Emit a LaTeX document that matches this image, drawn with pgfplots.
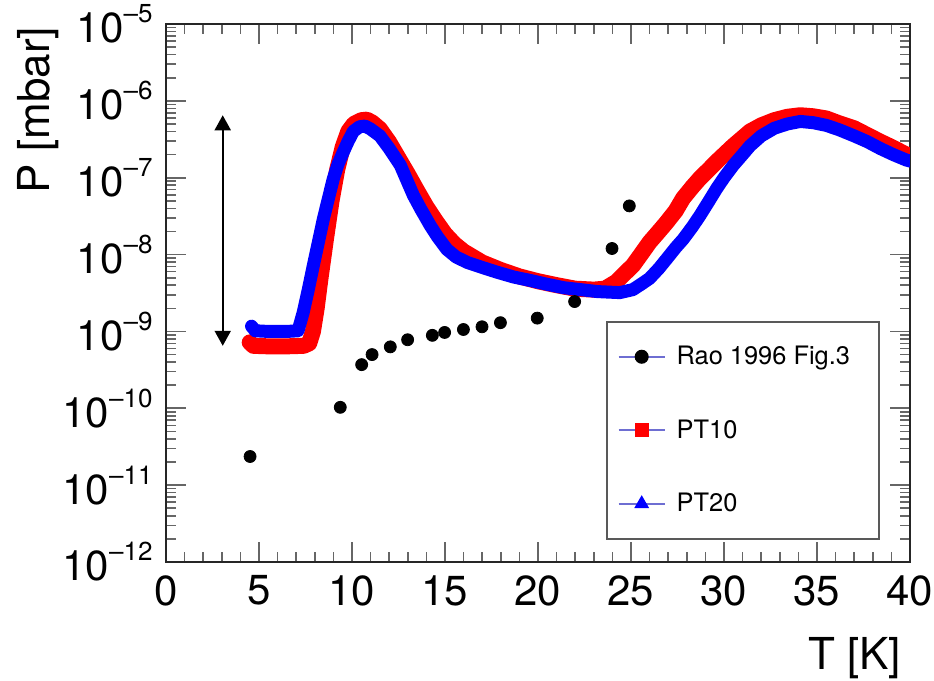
\documentclass[border=0pt]{standalone}
\usepackage{fontspec}
\setmainfont{TeX Gyre Heros}
\usepackage{pgfplots}
\pgfplotsset{compat=1.18}
\usetikzlibrary{arrows.meta}
\definecolor{legline}{RGB}{110,110,210}
\newcommand{\supe}[1]{\raisebox{10pt}{\fontsize{13}{13}\selectfont\textendash#1}}
\begin{document}
\begin{tikzpicture}
\useasboundingbox (-83pt,-59.5pt) rectangle (384pt,281pt);
\begin{axis}[
  scale only axis, width=372pt, height=269pt,
  xmin=0, xmax=40, ymode=log, log basis y=10, ymin=1e-12, ymax=1e-5,
  xtick={0,5,...,40}, xticklabels={0,5,10,15,20,25,30,35,40},
  minor x tick num=4,
  ytickten={-12,-11,-10,-9,-8,-7,-6,-5},
  minor ytick={2e-12,3e-12,4e-12,5e-12,6e-12,7e-12,8e-12,9e-12,
               2e-11,3e-11,4e-11,5e-11,6e-11,7e-11,8e-11,9e-11,
               2e-10,3e-10,4e-10,5e-10,6e-10,7e-10,8e-10,9e-10,
               2e-9,3e-9,4e-9,5e-9,6e-9,7e-9,8e-9,9e-9,
               2e-8,3e-8,4e-8,5e-8,6e-8,7e-8,8e-8,9e-8,
               2e-7,3e-7,4e-7,5e-7,6e-7,7e-7,8e-7,9e-7,
               2e-6,3e-6,4e-6,5e-6,6e-6,7e-6,8e-6,9e-6},
  yticklabel={10\supe{\pgfmathparse{int(round(-\tick))}\pgfmathresult}},
  tick align=inside,
  major tick length=10pt, minor tick length=5pt,
  tick style={line width=0.8pt, black!60},
  axis line style={line width=1pt, black!85},
  xticklabel style={font=\fontsize{21}{21}\selectfont, inner ysep=0pt, yshift=-6.5pt},
  yticklabel style={font=\fontsize{21}{21}\selectfont, inner xsep=0pt, xshift=-6.5pt},
  legend image code/.code={\draw[mark repeat=2,mark phase=2,#1] plot coordinates {(0pt,0pt) (11.5pt,0pt) (23pt,0pt)};},
  legend style={at={(rel axis cs:0.591,0.448)}, anchor=north west, draw=black!65, line width=1pt, fill=white,
    inner xsep=5.5pt, inner ysep=12pt, row sep=26pt, column sep=5.5pt,
    font=\fontsize{12.7}{15}\selectfont, nodes={inner sep=0pt}},
  legend cell align=left,
]
\addplot[only marks, mark=*, mark size=3pt, black, forget plot] coordinates {
(4.52,2.36e-11) (9.37,1.03e-10) (10.52,3.7e-10) (11.08,5.0e-10) (12.06,6.3e-10)
(12.99,7.8e-10) (14.32,8.9e-10) (14.98,9.7e-10) (15.99,1.06e-9) (16.99,1.15e-9)
(17.98,1.3e-9) (19.96,1.49e-9) (21.97,2.45e-9) (23.98,1.2e-8) (24.91,4.3e-8)};
\addplot[red, line width=8pt, line join=round, line cap=round, forget plot] coordinates {
(4.5,7.2e-10) (4.7,6.5e-10) (5.5,6.4e-10) (6.5,6.4e-10) (7.4,6.5e-10) (7.7,7.0e-10)
(7.9,1.0e-9) (8.1,2.0e-9) (8.3,4.8e-9) (8.6,1.6e-8) (8.9,5.0e-8) (9.2,1.26e-7)
(9.5,2.5e-7) (9.8,4.0e-7) (10.1,5.0e-7) (10.5,5.6e-7) (10.8,5.7e-7) (11.1,5.2e-7)
(11.5,4.3e-7) (12.0,2.9e-7) (12.5,1.8e-7) (13.0,1.12e-7) (13.5,6.8e-8) (14.0,4.2e-8)
(14.5,2.75e-8) (15.0,1.86e-8) (15.5,1.38e-8) (16.0,1.1e-8) (17.0,7.9e-9) (18.0,6.3e-9)
(19.0,5.2e-9) (20.0,4.5e-9) (21.0,4.0e-9) (22.0,3.6e-9) (23.0,3.5e-9) (23.6,3.6e-9)
(24.2,4.4e-9) (24.6,5.5e-9) (25.1,7.2e-9) (25.5,9.8e-9) (26.0,1.45e-8) (26.5,2.0e-8)
(26.9,2.6e-8) (27.4,3.7e-8) (27.8,5.4e-8) (28.3,7.6e-8) (28.7,9.8e-8) (29.2,1.29e-7)
(29.6,1.62e-7) (30.0,2.0e-7) (30.5,2.6e-7) (31.0,3.3e-7) (31.4,4.0e-7) (32.0,4.8e-7)
(32.7,5.6e-7) (33.4,6.2e-7) (34.1,6.5e-7) (34.8,6.3e-7) (35.5,5.9e-7) (36.2,5.1e-7)
(37.0,4.4e-7) (37.7,3.6e-7) (38.4,2.95e-7) (39.1,2.45e-7) (39.8,2.0e-7) (40.0,1.95e-7)};
\addplot[blue, line width=6.5pt, line join=round, line cap=round, forget plot] coordinates {
(4.6,1.17e-9) (4.8,1.02e-9) (5.5,1.0e-9) (6.5,1.0e-9) (7.1,1.02e-9) (7.38,1.78e-9)
(7.65,3.5e-9) (7.92,7.2e-9) (8.2,1.48e-8) (8.46,2.9e-8) (8.75,5.6e-8) (9.0,9.8e-8)
(9.25,1.5e-7) (9.53,2.16e-7) (9.8,3.0e-7) (10.07,4.0e-7) (10.4,4.6e-7) (10.7,4.7e-7)
(11.0,4.3e-7) (11.5,3.5e-7) (12.0,2.4e-7) (12.6,1.45e-7) (13.3,5.9e-8) (13.7,3.9e-8)
(14.2,2.4e-8) (14.6,1.7e-8) (15.1,1.17e-8) (15.6,9.3e-9) (16.2,7.9e-9) (17.0,6.8e-9)
(17.8,5.9e-9) (18.7,5.1e-9) (19.6,4.6e-9) (20.5,4.1e-9) (21.4,3.7e-9) (22.3,3.5e-9)
(23.2,3.3e-9) (24.4,3.2e-9) (25.1,3.5e-9) (25.6,4.2e-9) (26.0,4.9e-9) (26.5,6.6e-9)
(27.0,9.3e-9) (27.4,1.23e-8) (27.8,1.58e-8) (28.3,2.3e-8) (28.7,3.2e-8) (29.2,5.0e-8)
(29.6,7.2e-8) (30.0,1.0e-7) (30.5,1.45e-7) (31.0,2.0e-7) (31.4,2.6e-7) (32.0,3.5e-7)
(32.7,4.4e-7) (33.4,5.0e-7) (34.1,5.4e-7) (34.8,5.2e-7) (35.5,4.8e-7) (36.2,4.2e-7)
(37.0,3.5e-7) (37.7,2.95e-7) (38.4,2.4e-7) (39.1,2.0e-7) (39.8,1.7e-7) (40.0,1.65e-7)};
\draw[{Triangle[length=7.5pt,width=8pt]}-{Triangle[length=7.5pt,width=8pt]}, line width=1pt, black]
  (axis cs:3.05,6.5e-10) -- (axis cs:3.05,6.5e-7);
\addlegendimage{legline, line width=1pt, mark=*, mark size=3pt, mark options={solid, draw=black, fill=black}}
\addlegendentry{Rao 1996 Fig.3\hspace*{9pt}}
\addlegendimage{legline, line width=1pt, mark=square*, mark size=3pt, mark options={solid, draw=red, fill=red}}
\addlegendentry{PT10}
\addlegendimage{legline, line width=1pt, mark=triangle*, mark size=3.3pt, mark options={solid, draw=blue, fill=blue}}
\addlegendentry{PT20}
\end{axis}
\node[anchor=base east, rotate=90, font=\fontsize{22}{22}\selectfont] at (-58pt,271pt) {P [mbar]};
\node[anchor=base east, font=\fontsize{22}{22}\selectfont] at (371pt,-54pt) {T [K]};
\end{tikzpicture}
\end{document}
